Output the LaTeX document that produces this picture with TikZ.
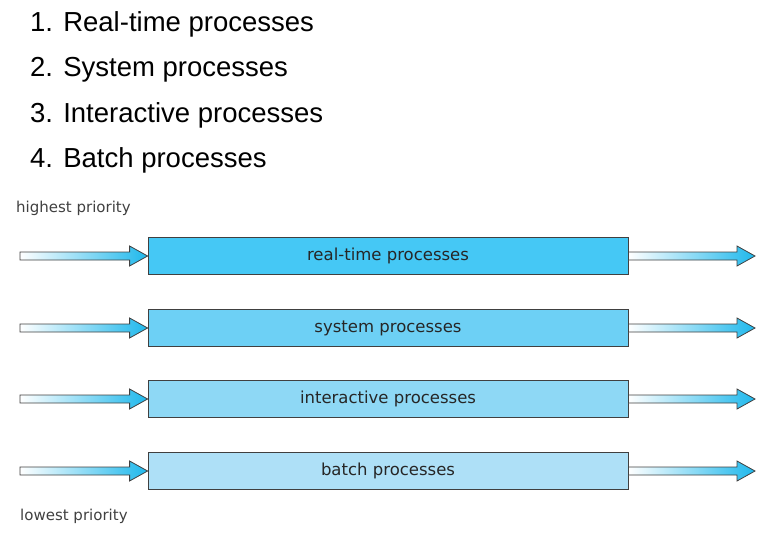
\documentclass[tikz,border=0pt]{standalone}
\usepackage{fontspec}
\setmainfont{Liberation Sans}
\newfontfamily\dv{DejaVu Sans}
\usetikzlibrary{calc}
\definecolor{arrc}{HTML}{1FB8EC}
\definecolor{c1}{HTML}{45C8F5}
\definecolor{c2}{HTML}{6DD0F5}
\definecolor{c3}{HTML}{8ED8F5}
\definecolor{c4}{HTML}{AEE0F7}
\newcommand\fatarr[2]{\path[draw=black!75,line width=0.8pt,left color=white,right color=arrc] let \p1=(#1), \p2=(#2) in (\x1,\y1+4pt) -- (\x2-18pt,\y1+4pt) -- (\x2-18pt,\y1+10pt) -- (\x2,\y1) -- (\x2-18pt,\y1-10pt) -- (\x2-18pt,\y1-4pt) -- (\x1,\y1-4pt) -- cycle;}
\begin{document}
\begin{tikzpicture}[x=1pt,y=-1pt,
  box/.style={draw=black!75,line width=0.8pt,minimum width=480pt,minimum height=37pt,inner sep=0pt,font=\dv\fontsize{16.5}{18}\selectfont,text=black!85},
  item/.style={anchor=west,font=\fontsize{27.5}{30}\selectfont,inner sep=0pt},
  lab/.style={anchor=west,font=\dv\fontsize{15}{16}\selectfont,text=black!75,inner sep=0pt}]
\useasboundingbox (0,0) rectangle (775,533);
\node[item] (i1) at (30,24) {1. Real-time processes};
\node[item] (i2) at (30,70) {2. System processes};
\node[item] (i3) at (30,115) {3. Interactive processes};
\node[item] (i4) at (30,160) {4. Batch processes};
\node[lab] (hp) at (16,208) {highest priority};
\node[lab] (lp) at (20,516) {lowest priority};
\foreach \i/\y/\t in {1/256/real-time processes,2/328/system processes,3/399/interactive processes,4/471/batch processes}{
  \node[box,fill=c\i] (b\i) at (388,\y) {\t};
  \coordinate (s\i) at (20,\y);
  \coordinate (e\i) at (755,\y);
  \fatarr{s\i}{b\i.west}
  \fatarr{b\i.east}{e\i}
}
\end{tikzpicture}
\end{document}
